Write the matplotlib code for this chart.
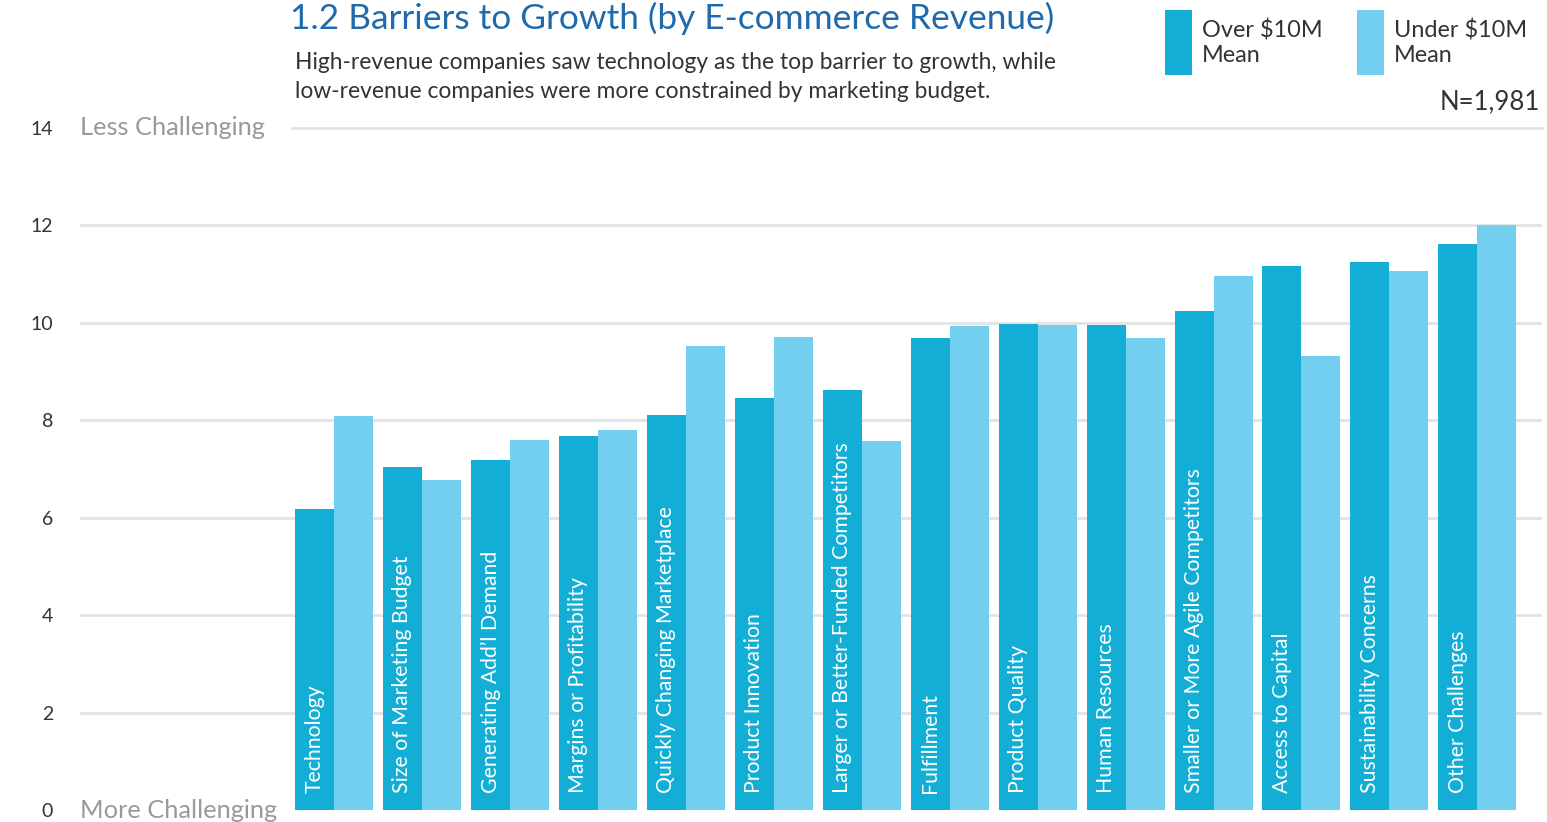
import matplotlib
matplotlib.use("Agg")
import matplotlib.pyplot as plt
from matplotlib.patches import Rectangle
import numpy as np

plt.rcParams['font.family'] = ['Lato', 'DejaVu Sans']

# ---- data ----
categories = [
    "Technology", "Size of Marketing Budget", "Generating Add\u2019l Demand",
    "Margins or Profitability", "Quickly Changing Marketplace", "Product Innovation",
    "Larger or Better-Funded Competitors", "Fulfillment", "Product Quality",
    "Human Resources", "Smaller or More Agile Competitors", "Access to Capital",
    "Sustainability Concerns", "Other Challenges",
]
over_10m = [6.18, 7.05, 7.18, 7.68, 8.10, 8.46, 8.61, 9.68, 9.97, 9.96, 10.23, 11.16, 11.25, 11.62]
under_10m = [8.09, 6.77, 7.59, 7.79, 9.53, 9.71, 7.57, 9.93, 9.95, 9.68, 10.96, 9.32, 11.07, 12.00]
y_ticks = [0, 2, 4, 6, 8, 10, 12, 14]
series_names = ["Over $10M\nMean", "Under $10M\nMean"]

DARK = "#12aed6"
LIGHT = "#72cff0"
GRID = "#e3e3e3"

W, H = 1547, 822
fig = plt.figure(figsize=(W / 100, H / 100), dpi=100)


def fx(px):
    return px / W


def fy(py):
    return 1 - py / H


# axes box in pixels: x 80..1542, y(0)=810.2, y(14)=127.7
ax_left, ax_right = 80, 1542
y0_px, y14_px = 810.2, 127.7
ax = fig.add_axes([fx(ax_left), fy(y0_px), (ax_right - ax_left) / W, (y0_px - y14_px) / H])

pitch_px = 87.95
first_center_px = 334.0
n = len(categories)
x = np.arange(n)
xl = -(first_center_px - ax_left) / pitch_px
xr = (n - 1) + (ax_right - (first_center_px + (n - 1) * pitch_px)) / pitch_px
ax.set_xlim(xl, xr)
ax.set_ylim(0, 14)

bw = 39 / pitch_px
ax.bar(x - bw / 2, over_10m, width=bw, color=DARK, zorder=3, linewidth=0)
ax.bar(x + bw / 2, under_10m, width=bw, color=LIGHT, zorder=3, linewidth=0)

# horizontal guide lines
for t in y_ticks[1:-1]:
    ax.axhline(t, color=GRID, linewidth=2, zorder=1)
ax.axhline(14, xmin=(292 - ax_left) / (ax_right - ax_left), xmax=1,
           color=GRID, linewidth=2, zorder=1, clip_on=False)

# category labels written up the dark bars
for xi, name in zip(x, categories):
    ax.text(xi - bw / 2, 0.35, name, rotation=90, ha="center", va="bottom",
            color="white", fontsize=15.3, zorder=4)

for s in ax.spines.values():
    s.set_visible(False)
ax.set_xticks([])
ax.set_yticks(y_ticks)
ax.set_yticklabels([str(t) for t in y_ticks], fontsize=14, color="#333333")
ax.tick_params(axis="y", length=0, pad=19.5)

ax.text(0, 14, "Less Challenging", transform=ax.get_yaxis_transform(),
        ha="left", va="center", fontsize=18.3, color="#999999")
ax.text(0, 0, "More Challenging", transform=ax.get_yaxis_transform(),
        ha="left", va="center", fontsize=18.3, color="#999999")

# title and subtitle
fig.text(fx(290), fy(29), "1.2 Barriers to Growth (by E-commerce Revenue)",
         ha="left", va="baseline", fontsize=25.4, color="#1f6aad")
fig.text(fx(295), fy(69), "High-revenue companies saw technology as the top barrier to growth, while",
         ha="left", va="baseline", fontsize=16.4, color="#333333")
fig.text(fx(295), fy(98), "low-revenue companies were more constrained by marketing budget.",
         ha="left", va="baseline", fontsize=16.4, color="#333333")

# legend
for sx, col, name in [(1165, DARK, series_names[0]), (1357, LIGHT, series_names[1])]:
    fig.add_artist(Rectangle((fx(sx), fy(75)), 27 / W, 65 / H,
                             transform=fig.transFigure, color=col, linewidth=0))
    l1, l2 = name.split("\n")
    fig.text(fx(sx + 37), fy(38), l1.replace("$", r"\$"), ha="left", va="baseline",
             fontsize=16.9, color="#333333")
    fig.text(fx(sx + 37), fy(62), l2, ha="left", va="baseline",
             fontsize=16.9, color="#333333")

fig.text(fx(1540), fy(109), "N=1,981", ha="right", va="baseline",
         fontsize=18.5, color="#333333")

fig.savefig("out.png", dpi=100, facecolor="white")
